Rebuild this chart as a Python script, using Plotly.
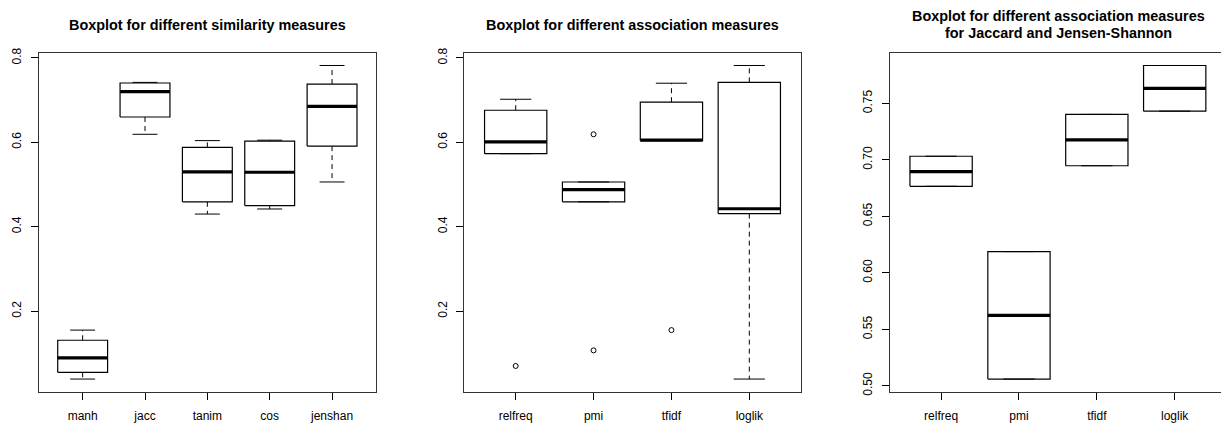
import plotly.graph_objects as go

# ---------------- data ----------------
sim_cats = ["manh", "jacc", "tanim", "cos", "jenshan"]
sim_lo = [0.039, 0.619, 0.430, 0.442, 0.506]
sim_q1 = [0.055, 0.660, 0.459, 0.450, 0.591]
sim_med = [0.089, 0.720, 0.530, 0.529, 0.685]
sim_q3 = [0.131, 0.7405, 0.588, 0.603, 0.738]
sim_hi = [0.155, 0.742, 0.604, 0.605, 0.782]
sim_out = [[], [], [], [], []]

assoc_cats = ["relfreq", "pmi", "tfidf", "loglik"]
assoc_lo = [0.573, 0.459, 0.604, 0.039]
assoc_q1 = [0.573, 0.459, 0.604, 0.431]
assoc_med = [0.601, 0.488, 0.605, 0.4425]
assoc_q3 = [0.676, 0.506, 0.695, 0.742]
assoc_hi = [0.702, 0.506, 0.740, 0.782]
assoc_out = [[0.070], [0.619, 0.107], [0.155], []]

jj_cats = ["relfreq", "pmi", "tfidf", "loglik"]
jj_lo = [0.6766, 0.506, 0.6948, 0.7431]
jj_q1 = [0.6766, 0.506, 0.6948, 0.7431]
jj_med = [0.6896, 0.5624, 0.7176, 0.7633]
jj_q3 = [0.7032, 0.6188, 0.7402, 0.7835]
jj_hi = [0.7032, 0.6188, 0.7402, 0.7835]
jj_out = [[], [], [], []]

titles = ["Boxplot for different similarity measures",
          "Boxplot for different association measures",
          "Boxplot for different association measures",
          "for Jaccard and Jensen-Shannon"]

# ---------------- figure ----------------
W, H = 1221, 423
FONT = "Liberation Sans, Arial, sans-serif"
fig = go.Figure()

panels = [
    (sim_cats, sim_lo, sim_q1, sim_med, sim_q3, sim_hi, sim_out),
    (assoc_cats, assoc_lo, assoc_q1, assoc_med, assoc_q3, assoc_hi, assoc_out),
    (jj_cats, jj_lo, jj_q1, jj_med, jj_q3, jj_hi, jj_out),
]

BW = 0.4   # half box width
SW = 0.2   # half staple width

for p, (cats, lo, q1, med, q3, hi, outs) in enumerate(panels):
    xa = "x" if p == 0 else f"x{p+1}"
    ya = "y" if p == 0 else f"y{p+1}"
    bx, by, mx, my, wx, wy, sx, sy, ox, oy = [], [], [], [], [], [], [], [], [], []
    for i in range(len(cats)):
        c = i + 1
        bx += [c - BW, c + BW, c + BW, c - BW, c - BW, None]
        by += [q1[i], q1[i], q3[i], q3[i], q1[i], None]
        mx += [c - BW, c + BW, None]
        my += [med[i], med[i], None]
        if hi[i] > q3[i]:
            wx += [c, c, None]
            wy += [q3[i], hi[i], None]
        if lo[i] < q1[i]:
            wx += [c, c, None]
            wy += [q1[i], lo[i], None]
        sx += [c - SW, c + SW, None, c - SW, c + SW, None]
        sy += [hi[i], hi[i], None, lo[i], lo[i], None]
        for v in outs[i]:
            ox.append(c)
            oy.append(v)
    fig.add_trace(go.Scatter(x=wx, y=wy, mode="lines", xaxis=xa, yaxis=ya,
                             line=dict(color="black", width=1, dash="5px,4px"),
                             hoverinfo="skip", showlegend=False))
    fig.add_trace(go.Scatter(x=sx, y=sy, mode="lines", xaxis=xa, yaxis=ya,
                             line=dict(color="black", width=1),
                             hoverinfo="skip", showlegend=False))
    fig.add_trace(go.Scatter(x=bx, y=by, mode="lines", xaxis=xa, yaxis=ya,
                             line=dict(color="black", width=1.2),
                             hoverinfo="skip", showlegend=False))
    fig.add_trace(go.Scatter(x=mx, y=my, mode="lines", xaxis=xa, yaxis=ya,
                             line=dict(color="black", width=3.2),
                             hoverinfo="skip", showlegend=False))
    if ox:
        fig.add_trace(go.Scatter(x=ox, y=oy, mode="markers", xaxis=xa, yaxis=ya,
                                 marker=dict(symbol="circle-open", size=5,
                                             color="black", line=dict(width=1)),
                                 hoverinfo="skip", showlegend=False))

# panel geometry (pixels)
left = [39.0, 464.3, 889.7]
right = [375.7, 800.7, 1221.0]
top, bottom = 49.0, 395.0
xranges = [[0.3, 5.7], [0.34, 4.66], [0.34, 0.34 + (1221.0 - 889.7) / 77.87]]
yranges = [[0.0093, 0.8117], [0.0093, 0.8117], [0.4949, 0.7946]]
ytick_sets = [[0.2, 0.4, 0.6, 0.8], [0.2, 0.4, 0.6, 0.8],
              [0.50, 0.55, 0.60, 0.65, 0.70, 0.75]]
ytick_text = [["0.2", "0.4", "0.6", "0.8"], ["0.2", "0.4", "0.6", "0.8"],
              ["0.50", "0.55", "0.60", "0.65", "0.70", "0.75"]]

layout = {}
for p in range(3):
    cats = panels[p][0]
    xk = "xaxis" if p == 0 else f"xaxis{p+1}"
    yk = "yaxis" if p == 0 else f"yaxis{p+1}"
    layout[xk] = dict(
        domain=[left[p] / W, min(right[p] / W, 1.0)],
        range=xranges[p], anchor="y" if p == 0 else f"y{p+1}",
        tickmode="array", tickvals=list(range(1, len(cats) + 1)), ticktext=cats,
        ticks="outside", ticklen=7, tickwidth=1, tickcolor="black",
        ticklabelstandoff=6,
        showline=True, linecolor="#333", linewidth=1, mirror=True,
        showgrid=False, zeroline=False,
        tickfont=dict(family=FONT, size=12, color="black"),
    )
    layout[yk] = dict(
        domain=[(H - bottom) / H, (H - top) / H],
        range=yranges[p], anchor="x" if p == 0 else f"x{p+1}",
        tickmode="array", tickvals=ytick_sets[p], ticktext=ytick_text[p],
        ticks="outside", ticklen=7, tickwidth=1, tickcolor="black",
        tickangle=-90, ticklabelstandoff=5,
        showline=True, linecolor="#333", linewidth=1, mirror=(p < 2),
        showgrid=False, zeroline=False,
        tickfont=dict(family=FONT, size=12, color="black"),
    )

ann = []
centers = [(left[0] + right[0]) / 2, (left[1] + right[1]) / 2, 1058.0]
title_y = [20.7, 20.7, 11.7, 28.3]
title_x = [centers[0], centers[1], centers[2], centers[2]]
for t, tx, ty in zip(titles, title_x, title_y):
    ann.append(dict(text=t, x=tx / W, y=1 - ty / H, xref="paper", yref="paper",
                    xanchor="center", yanchor="middle", showarrow=False,
                    font=dict(family=FONT, size=14.4, color="black", weight="bold")))

fig.update_layout(
    width=W, height=H,
    margin=dict(l=0, r=0, t=0, b=0),
    paper_bgcolor="white", plot_bgcolor="white",
    annotations=ann,
    showlegend=False,
    **layout,
)

fig.write_html(
    "out.html",
    config={"displayModeBar": False},
    post_script="document.body.style.margin='0';document.body.style.padding='0';"
                "document.body.style.overflow='hidden';",
)
